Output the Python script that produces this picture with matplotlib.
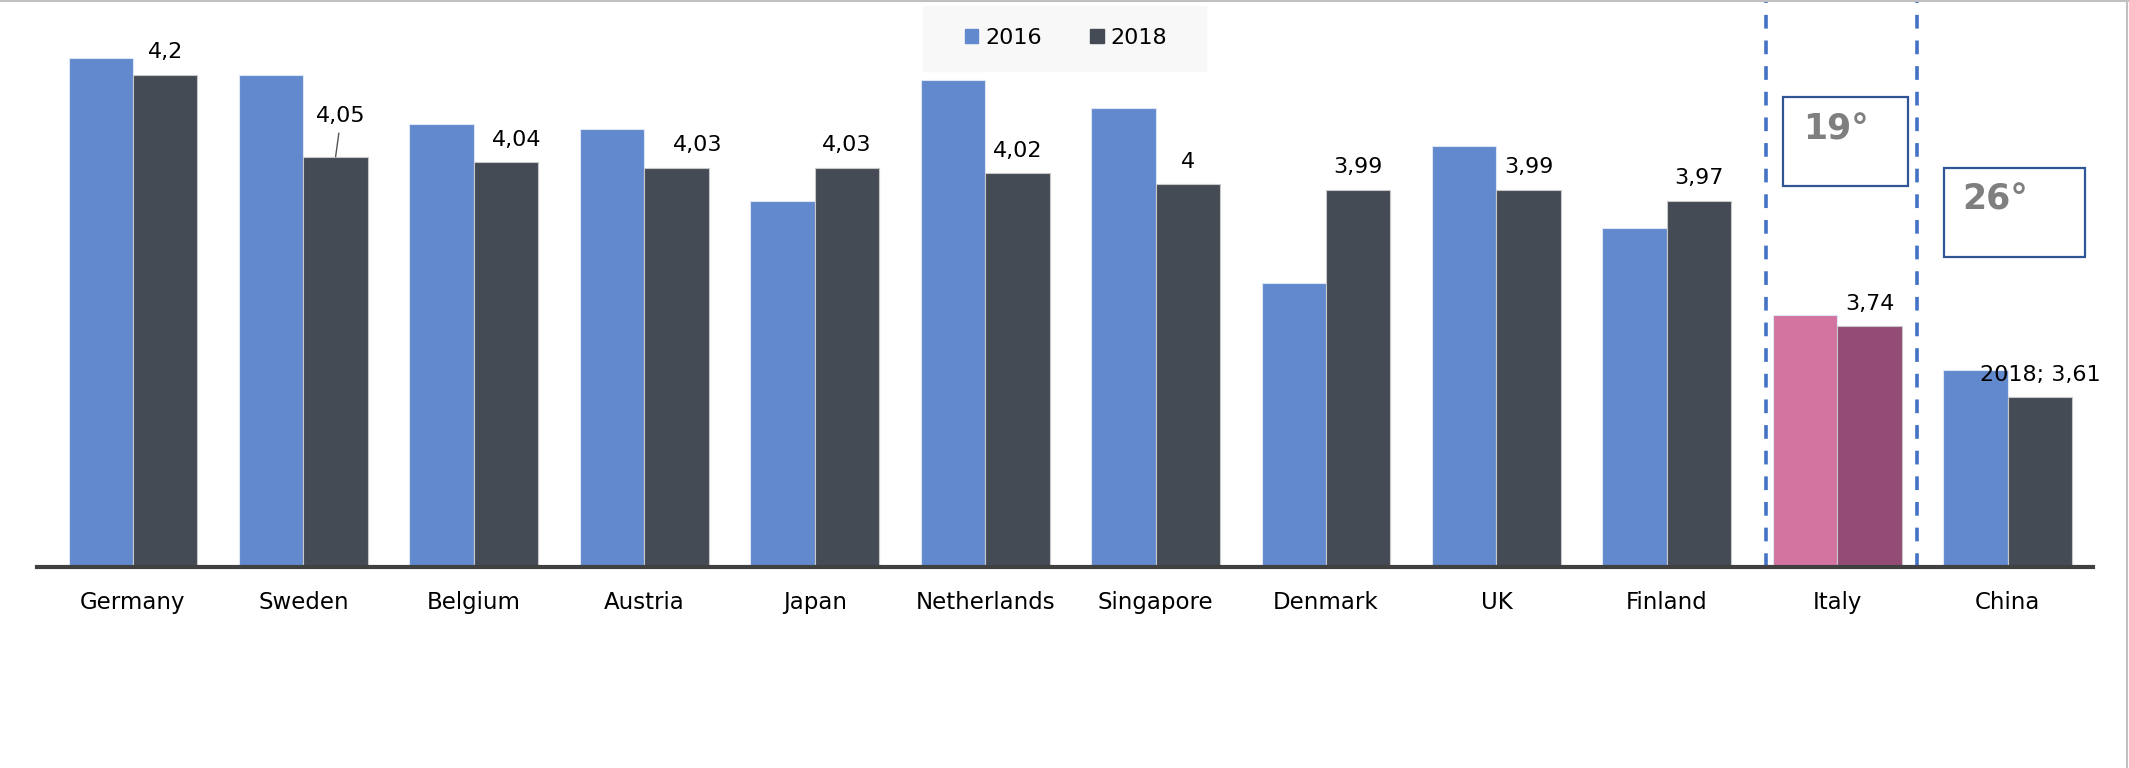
import matplotlib.pyplot as plt
from matplotlib.patches import Rectangle, Patch
import numpy as np

plt.rcParams['font.family'] = ['DejaVu Sans']

countries = ['Germany', 'Sweden', 'Belgium', 'Austria', 'Japan', 'Netherlands',
             'Singapore', 'Denmark', 'UK', 'Finland', 'Italy', 'China']
v2016 = [4.23, 4.20, 4.11, 4.10, 3.97, 4.19, 4.14, 3.82, 4.07, 3.92, 3.76, 3.66]
v2018 = [4.20, 4.05, 4.04, 4.03, 4.03, 4.02, 4.00, 3.99, 3.99, 3.97, 3.74, 3.61]
labels2018 = ['4,2', '4,05', '4,04', '4,03', '4,03', '4,02', '4', '3,99', '3,99',
              '3,97', '3,74', '2018; 3,61']

blue = '#6288cd'
dark = '#444b55'
pink = '#d374a0'
purple = '#934c75'

fig = plt.figure(figsize=(21.29, 7.68), dpi=100)
ax = fig.add_axes([37 / 2129, 201 / 768, (2093 - 37) / 2129, 567 / 768])

x = np.arange(len(countries))
w = 0.378
c16 = [pink if c == 'Italy' else blue for c in countries]
c18 = [purple if c == 'Italy' else dark for c in countries]
ax.bar(x - w / 2, v2016, w, color=c16, edgecolor='#dde6f5', linewidth=0.8)
ax.bar(x + w / 2, v2018, w, color=c18, edgecolor='#c8c8c8', linewidth=0.8)

ax.set_ylim(3.3, 3.3 + 567 / 547)
ax.set_xlim(-0.563, 11.5)

# value labels for 2018
nudge = {'Belgium': 8, 'Austria': 15}
for i, (c, v, lab) in enumerate(zip(countries, v2018, labels2018)):
    if c == 'Sweden':
        ax.annotate(lab, xy=(i + w / 2, v), xytext=(4, 22), textcoords='offset points',
                    ha='center', va='bottom', fontsize=16,
                    arrowprops=dict(arrowstyle='-', color='#555555', lw=1,
                                    shrinkA=3, shrinkB=0))
    else:
        ax.annotate(lab, xy=(i + w / 2, v), xytext=(nudge.get(c, 0), 9),
                    textcoords='offset points', ha='center', va='bottom', fontsize=16)

# dashed lines around Italy
for xv in [9.58, 10.47]:
    ax.axvline(xv, color='#4472c4', lw=2.6, dashes=(3.8, 3.3), zorder=0)

ax.set_xticks(x)
ax.set_xticklabels(countries, fontsize=16.5)
ax.tick_params(axis='x', length=0, pad=17)
ax.set_yticks([])
for s in ['top', 'right', 'left']:
    ax.spines[s].set_visible(False)
ax.spines['bottom'].set_color('#404040')
ax.spines['bottom'].set_linewidth(3)

# degree boxes
fig.patches.append(Rectangle((1783 / 2129, 1 - 186 / 768), 125 / 2129, 89 / 768,
                             transform=fig.transFigure, fill=False,
                             edgecolor='#2f5597', lw=1.6))
fig.text(1803 / 2129, 1 - 130 / 768, '19°', fontsize=25, fontweight='bold',
         color='#7f7f7f', ha='left', va='center')
fig.patches.append(Rectangle((1944 / 2129, 1 - 257 / 768), 141 / 2129, 89 / 768,
                             transform=fig.transFigure, fill=False,
                             edgecolor='#2f5597', lw=1.6))
fig.text(1962 / 2129, 1 - 200 / 768, '26°', fontsize=25, fontweight='bold',
         color='#7f7f7f', ha='left', va='center')

# legend
fig.patches.append(Rectangle((923 / 2129, 1 - 71 / 768), 283 / 2129, 65 / 768,
                             transform=fig.transFigure, color='#f8f8f8', zorder=0))
handles = [Patch(color=blue, label='2016'), Patch(color=dark, label='2018')]
fig.legend(handles=handles, loc='center', bbox_to_anchor=(1066 / 2129, 1 - 38 / 768),
           ncol=2, frameon=False, fontsize=16, handlelength=0.6, handleheight=0.6,
           handletextpad=0.3, columnspacing=2.2)

# thin frame lines top and right
fig.add_artist(plt.Line2D([0, 1], [0.999, 0.999], transform=fig.transFigure,
                          color='#c0c0c0', lw=1.5))
fig.add_artist(plt.Line2D([0.9992, 0.9992], [0, 1], transform=fig.transFigure,
                          color='#c0c0c0', lw=1.5))

fig.savefig('out.png', dpi=100)
